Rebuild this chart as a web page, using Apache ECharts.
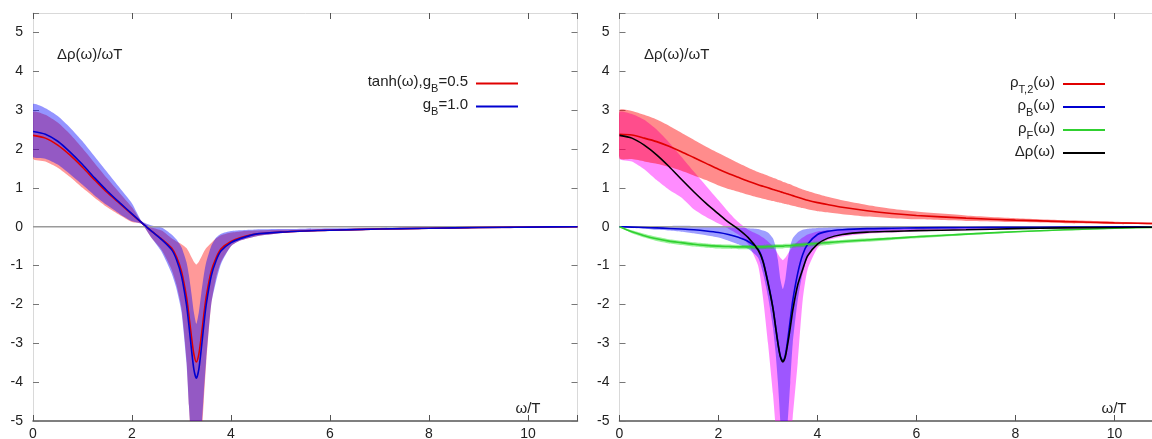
<!DOCTYPE html>
<html><head><meta charset="utf-8">
<script src="https://cdn.jsdelivr.net/npm/echarts@6/dist/echarts.min.js"></script>
<style>html,body{margin:0;padding:0;background:#fff}#c{width:1152px;height:439px}</style>
</head><body><div id="c"></div>
<script>
// omega/T sample points
const X = [0,0.25,0.5,0.75,1, 1.25,1.5,1.75,2, 2.2,2.4,2.6,2.8, 2.9,3,3.1,3.15, 3.2,3.25,3.3,3.35, 3.4,3.45,3.5,3.6, 3.7,3.8,4,4.2, 4.5,5,5.5,6, 7,8,9,10,11];
const X_TICKS = [0,2,4,6,8,10];
const Y_TICKS = [-5,-4,-3,-2,-1,0,1,2,3,4,5];

// ---- left panel ----
const L_TANH = [2.35,2.28,2.1,1.84,1.53, 1.2,0.88,0.6,0.32, 0.1,-0.12,-0.32,-0.55, -0.78,-1.15,-1.8,-2.28, -2.82,-3.28,-3.48,-3.28, -2.82,-2.28,-1.8,-1.15, -0.8,-0.57,-0.38,-0.28, -0.19,-0.14,-0.11,-0.09, -0.06,-0.04,-0.02,-0.01,0];
const L_TANH_HI = [2.95,2.88,2.68,2.38,2.02, 1.63,1.24,0.87,0.5, 0.13,-0.02,-0.1,-0.3, -0.38,-0.45,-0.55,-0.65, -0.78,-0.9,-0.97,-0.9, -0.78,-0.65,-0.55,-0.42, -0.3,-0.22,-0.15,-0.12, -0.1,-0.08,-0.07,-0.06, -0.04,-0.03,-0.02,-0.01,0];
const L_TANH_LO = [1.75,1.68,1.52,1.28,1.0, 0.74,0.5,0.3,0.12, 0.07,-0.3,-0.6,-1.1, -1.5,-2.1,-3.4,-4.6, -5.7,-6.5,-7,-6.5, -5.5,-4.5,-3.5,-2.0, -1.3,-0.9,-0.5,-0.35, -0.25,-0.17,-0.13,-0.11, -0.08,-0.06,-0.04,-0.03,-0.02];
const L_GB1 = [2.45,2.38,2.2,1.92,1.6, 1.25,0.92,0.62,0.33, 0.1,-0.12,-0.33,-0.59, -0.85,-1.27,-2.0,-2.54, -3.14,-3.67,-3.9,-3.67, -3.14,-2.54,-2.0,-1.27, -0.87,-0.62,-0.41,-0.3, -0.19,-0.14,-0.11,-0.09, -0.06,-0.04,-0.02,-0.01,0];
const L_GB1_HI = [3.15,3.05,2.85,2.55,2.2, 1.8,1.4,1.0,0.6, 0.14,0.03,-0.02,-0.2, -0.33,-0.53,-0.91,-1.25, -1.71,-2.2,-2.5,-2.2, -1.71,-1.25,-0.91,-0.5, -0.28,-0.18,-0.11,-0.09, -0.07,-0.06,-0.05,-0.04, -0.03,-0.02,-0.01,0,0];
const L_GB1_LO = [1.8,1.75,1.6,1.35,1.08, 0.8,0.55,0.33,0.14, 0.07,-0.3,-0.65,-1.2, -1.6,-2.2,-3.5,-4.6, -5.6,-6.5,-7,-6.5, -5.3,-4.3,-3.4,-2.0, -1.4,-0.95,-0.5,-0.35, -0.25,-0.17,-0.13,-0.11, -0.08,-0.06,-0.04,-0.03,-0.02];

// ---- right panel ----
const R_T2 = [2.38,2.36,2.28,2.19,2.07, 1.93,1.78,1.63,1.48, 1.37,1.27,1.17,1.08, 1.04,1.0,0.96,0.94, 0.92,0.9,0.88,0.86, 0.84,0.82,0.8,0.76, 0.72,0.68,0.62,0.57, 0.5,0.41,0.34,0.29, 0.22,0.17,0.13,0.1,0.08];
const R_T2_HI = [3.0,2.98,2.88,2.76,2.6, 2.42,2.24,2.06,1.9, 1.77,1.64,1.52,1.41, 1.36,1.31,1.26,1.24, 1.21,1.19,1.16,1.14, 1.11,1.09,1.06,1.01, 0.96,0.92,0.84,0.77, 0.68,0.56,0.46,0.39, 0.29,0.22,0.17,0.13,0.1];
const R_T2_LO = [1.76,1.74,1.68,1.62,1.54, 1.44,1.32,1.2,1.06, 0.97,0.9,0.82,0.75, 0.72,0.69,0.66,0.645, 0.63,0.615,0.6,0.585, 0.57,0.555,0.54,0.51, 0.48,0.45,0.4,0.37, 0.32,0.26,0.22,0.19, 0.15,0.12,0.09,0.07,0.06];
const R_B = [0,-0.01,-0.02,-0.03,-0.045, -0.06,-0.08,-0.11,-0.15, -0.2,-0.27,-0.38,-0.58, -0.88,-1.43,-2.08,-2.53, -2.98,-3.33,-3.46,-3.3, -2.9,-2.4,-1.9,-1.2, -0.72,-0.45,-0.2,-0.12, -0.08,-0.05,-0.04,-0.03, -0.02,-0.015,-0.01,-0.005,0];
const R_B_HI = [0,0.005,0.01,0.015,0.02, 0.025,0.02,0.01,0, -0.01,-0.02,-0.04,-0.06, -0.1,-0.15,-0.3,-0.5, -0.85,-1.35,-1.6,-1.35, -0.85,-0.5,-0.3,-0.15, -0.08,-0.05,-0.03,-0.02, -0.01,0,0,0, 0,0,0,0,0];
const R_B_LO = [0,-0.03,-0.05,-0.08,-0.1, -0.13,-0.17,-0.22,-0.28, -0.36,-0.45,-0.57,-0.8, -1.2,-1.8,-2.6,-3.2, -4.0,-5.0,-6.0,-5.5, -5.0,-4.0,-3.0,-1.9, -1.2,-0.8,-0.45,-0.3, -0.2,-0.12,-0.09,-0.07, -0.05,-0.03,-0.02,-0.01,-0.01];
const R_F = [0,-0.13,-0.23,-0.31,-0.37, -0.41,-0.45,-0.48,-0.5, -0.51,-0.52,-0.52,-0.52, -0.52,-0.51,-0.51,-0.5, -0.5,-0.5,-0.5,-0.49, -0.49,-0.49,-0.48,-0.47, -0.46,-0.45,-0.43,-0.41, -0.38,-0.34,-0.3,-0.26, -0.19,-0.13,-0.08,-0.04,-0.01];
const R_F_HI = [0,-0.09,-0.18,-0.26,-0.32, -0.36,-0.4,-0.43,-0.45, -0.46,-0.47,-0.47,-0.47, -0.47,-0.46,-0.46,-0.45, -0.45,-0.45,-0.45,-0.44, -0.44,-0.44,-0.43,-0.42, -0.41,-0.4,-0.38,-0.36, -0.34,-0.3,-0.27,-0.23, -0.17,-0.11,-0.07,-0.03,0];
const R_F_LO = [0,-0.17,-0.28,-0.37,-0.43, -0.47,-0.51,-0.54,-0.56, -0.57,-0.58,-0.58,-0.58, -0.58,-0.57,-0.57,-0.56, -0.56,-0.56,-0.56,-0.55, -0.55,-0.55,-0.54,-0.53, -0.52,-0.51,-0.49,-0.47, -0.43,-0.39,-0.34,-0.3, -0.22,-0.15,-0.1,-0.05,-0.02];
const R_D = [2.35,2.28,2.1,1.85,1.55, 1.22,0.9,0.6,0.33, 0.12,-0.06,-0.28,-0.6, -0.9,-1.45,-2.1,-2.55, -3.0,-3.35,-3.48,-3.35, -3.0,-2.6,-2.15,-1.5, -1.1,-0.75,-0.45,-0.3, -0.2,-0.14,-0.12,-0.1, -0.08,-0.05,-0.03,-0.02,-0.01];
const R_D_HI = [2.95,2.9,2.75,2.5,2.17, 1.8,1.42,1.05,0.68, 0.38,0.12,-0.08,-0.2, -0.28,-0.38,-0.5,-0.6, -0.7,-0.8,-0.86,-0.8, -0.7,-0.6,-0.5,-0.38, -0.28,-0.2,-0.12,-0.09, -0.07,-0.06,-0.05,-0.05, -0.04,-0.03,-0.02,-0.01,0];
const R_D_LO = [1.75,1.68,1.48,1.2,0.95, 0.75,0.45,0.25,0.08, -0.05,-0.2,-0.45,-1.0, -1.84,-3.0,-4.3,-5.1, -6,-6.5,-7,-6.5, -6,-5.5,-4.9,-3.5, -1.9,-1.1,-0.55,-0.35, -0.25,-0.18,-0.15,-0.12, -0.09,-0.06,-0.04,-0.03,-0.02];

const ZERO_LINE = [[0,0],[11,0]];

const FONT = "'Liberation Sans', Arial, Helvetica, sans-serif";
const TXT = '#222';

const chart = echarts.init(document.getElementById('c'), null, {renderer:'canvas'});
const pts = ys => X.map((x,i)=>[x, ys[i]]);

function band(ax, lo, hi, color){
  return {type:'custom', xAxisIndex:ax, yAxisIndex:ax, clip:true, silent:true,
    data:[[0,0]], encode:{x:0,y:1},
    renderItem(params, api){
      const p=[];
      for(let i=0;i<X.length;i++) p.push(api.coord([X[i], hi[i]]));
      for(let i=X.length-1;i>=0;i--) p.push(api.coord([X[i], lo[i]]));
      return {type:'polygon', shape:{points:p, smooth:0.2}, style:{fill:color}};
    }};
}
function line(ax, name, ys, color){
  return {type:'line', name, xAxisIndex:ax, yAxisIndex:ax, data:pts(ys), symbol:'none', smooth:0.25,
    lineStyle:{color, width:1.6}, itemStyle:{color}, clip:true, silent:true};
}
function zero(ax){
  return {type:'line', xAxisIndex:ax, yAxisIndex:ax, data:ZERO_LINE, symbol:'none',
    lineStyle:{color:'#9a9a9a', width:1.6}, silent:true};
}
function xAx(grid, bottom){
  return {type:'value', gridIndex:grid, position: bottom?'bottom':'top', min:0, max:11, interval:2,
    axisLine:{show:true, onZero:false, lineStyle:{color: bottom?'#555':'#d9d9d9', width: bottom?1.5:1}},
    axisTick:{show:true, inside:true, length:6, lineStyle:{color:'#555'}},
    axisLabel:{show:bottom, margin:6, fontSize:14, color:TXT, fontFamily:FONT,
      formatter: v => X_TICKS.includes(v) ? String(v) : ''},
    splitLine:{show:false}};
}
function yAx(grid, left){
  return {type:'value', gridIndex:grid, position: left?'left':'right', min:-5, max:5.5, interval:1,
    axisLine:{show:true, onZero:false, lineStyle:{color:'#d9d9d9'}},
    axisTick:{show:true, inside:true, length:6, lineStyle:{color:'#777'}},
    axisLabel:{show:left, margin:10, fontSize:14, color:TXT, fontFamily:FONT,
      formatter: v => Y_TICKS.includes(v) ? String(v) : ''},
    splitLine:{show:false}};
}
const LEG = {
  'tanh(ω),gB=0.5':'{n|tanh(ω),g}{s|B}{n|=0.5}{e|}',
  'gB=1.0':'{n|g}{s|B}{n|=1.0}{e|}',
  'ρT,2(ω)':'{n|ρ}{s|T,2}{n|(ω)}{e|}',
  'ρB(ω)':'{n|ρ}{s|B}{n|(ω)}{e|}',
  'ρF(ω)':'{n|ρ}{s|F}{n|(ω)}{e|}',
  'Δρ(ω)':'{n|Δρ(ω)}{e|}'
};
const legText = {color:TXT, fontFamily:FONT, rich:{
  n:{fontSize:15, fontFamily:FONT, color:TXT, lineHeight:18, verticalAlign:'top'},
  s:{fontSize:11, fontFamily:FONT, color:TXT, lineHeight:11, verticalAlign:'top', padding:[9,0,0,0]},
  e:{width:3, lineHeight:18}}};
function leg(names, right, top, gap){
  return {data:names, orient:'vertical', right, top, align:'right', itemWidth:42, itemHeight:2,
    icon:'rect', itemGap:gap, selectedMode:false, textStyle:legText, formatter: n => LEG[n], padding:0};
}

chart.setOption({
  animation:false,
  backgroundColor:'#fff',
  grid:[
    {left:33, right:574.5, top:13, bottom:18, outerBoundsMode:'none', containLabel:false},
    {left:619.5, right:-12, top:13, bottom:18, outerBoundsMode:'none', containLabel:false}
  ],
  xAxis:[xAx(0,true), xAx(0,false), xAx(1,true), xAx(1,false)],
  yAxis:[yAx(0,true), yAx(0,false), yAx(1,true), yAx(1,false)],
  legend:[
    leg(['tanh(ω),gB=0.5','gB=1.0'], 634, 74.5, 3),
    leg(['ρT,2(ω)','ρB(ω)','ρF(ω)','Δρ(ω)'], 47, 75, 3)
  ],
  graphic:[
    {type:'text', x:57, y:55, silent:true, style:{text:'Δρ(ω)/ωT', font:'15px '+FONT, fill:TXT, verticalAlign:'middle'}},
    {type:'text', x:644, y:55, silent:true, style:{text:'Δρ(ω)/ωT', font:'15px '+FONT, fill:TXT, verticalAlign:'middle'}},
    {type:'text', x:528, y:409, silent:true, style:{text:'ω/T', font:'15px '+FONT, fill:TXT, align:'center', verticalAlign:'middle'}},
    {type:'text', x:1114, y:409, silent:true, style:{text:'ω/T', font:'15px '+FONT, fill:TXT, align:'center', verticalAlign:'middle'}}
  ],
  series:[
    band(0, L_TANH_LO, L_TANH_HI, 'rgba(255,0,0,0.4)'),
    band(0, L_GB1_LO, L_GB1_HI, 'rgba(0,0,255,0.42)'),
    zero(0),
    line(0, 'tanh(ω),gB=0.5', L_TANH, '#e00000'),
    line(0, 'gB=1.0', L_GB1, '#0000d0'),

    band(2, R_D_LO, R_D_HI, 'rgba(255,0,255,0.45)'),
    band(2, R_T2_LO, R_T2_HI, 'rgba(255,0,0,0.45)'),
    band(2, R_B_LO, R_B_HI, 'rgba(0,0,255,0.38)'),
    band(2, R_F_LO, R_F_HI, 'rgba(0,220,0,0.4)'),
    zero(2),
    line(2, 'ρT,2(ω)', R_T2, '#e00000'),
    line(2, 'ρB(ω)', R_B, '#0000d0'),
    line(2, 'ρF(ω)', R_F, '#30d030'),
    line(2, 'Δρ(ω)', R_D, '#000000')
  ]
});
</script>
</body></html>
